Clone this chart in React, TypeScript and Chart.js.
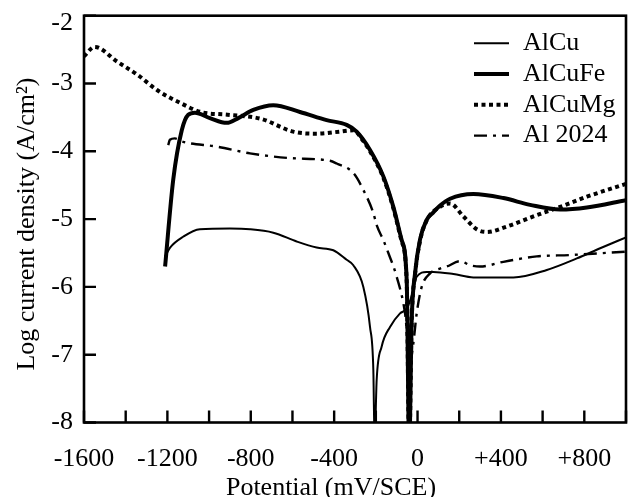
import React, { useEffect, useRef } from 'react';
import { Chart, registerables } from 'chart.js';

Chart.register(...registerables);

const FONT = "'Liberation Serif', 'Times New Roman', Times, serif";

const seriesNames = ['AlCu', 'AlCuFe', 'AlCuMg', 'Al 2024'];

// Potential (mV/SCE) and log current density for each alloy
const alCuX = [-1211, -1187, -1124, -1044, -900, -804, -692, -580, -484, -404, -340, -308, -260, -228, -212, -206, -196, -172, -132, -84, -52, -25, -4, 44, 76, 172, 268, 460, 620, 764, 876, 1000];
const alCuY = [-5.55, -5.42, -5.26, -5.15, -5.14, -5.15, -5.2, -5.33, -5.42, -5.46, -5.6, -5.68, -6.0, -6.59, -7.23, -8.3, -7.37, -6.88, -6.59, -6.39, -6.32, -6.1, -5.85, -5.78, -5.78, -5.81, -5.86, -5.86, -5.75, -5.58, -5.43, -5.27];

const alCuFeX = [-1211, -1172, -1131, -1100, -1068, -996, -915, -860, -788, -692, -564, -436, -340, -292, -228, -164, -116, -76, -52, -40, -28, -12, 12, 44, 76, 108, 156, 268, 412, 540, 684, 812, 1000];
const alCuFeY = [-5.7, -4.42, -3.69, -3.46, -3.43, -3.51, -3.58, -3.51, -3.39, -3.32, -3.42, -3.54, -3.61, -3.71, -3.98, -4.37, -4.82, -5.31, -5.9, -8.4, -6.49, -5.8, -5.3, -5.01, -4.9, -4.8, -4.7, -4.63, -4.69, -4.79, -4.86, -4.83, -4.72];

const alCuMgX = [-1600, -1549, -1440, -1344, -1248, -1136, -1040, -912, -752, -596, -484, -372, -308, -260, -228, -164, -116, -76, -52, -40, -28, -12, 12, 44, 108, 156, 220, 284, 332, 428, 556, 684, 812, 1000];
const alCuMgY = [-2.6, -2.46, -2.68, -2.87, -3.1, -3.29, -3.42, -3.46, -3.52, -3.71, -3.74, -3.71, -3.69, -3.85, -4.0, -4.39, -4.84, -5.33, -5.92, -8.4, -6.5, -5.82, -5.32, -5.02, -4.82, -4.77, -4.96, -5.15, -5.19, -5.11, -4.96, -4.82, -4.67, -4.48];

const al2024X = [-1196, -1188, -1164, -1124, -964, -804, -612, -420, -388, -308, -260, -212, -196, -164, -140, -100, -60, -35, -20, -4, 20, 60, 108, 140, 204, 252, 300, 412, 572, 732, 1000];
const al2024Y = [-3.91, -3.83, -3.81, -3.86, -3.93, -4.03, -4.1, -4.14, -4.18, -4.32, -4.57, -4.91, -5.09, -5.31, -5.5, -5.85, -6.39, -7.1, -6.83, -6.39, -6.0, -5.8, -5.73, -5.7, -5.62, -5.68, -5.7, -5.63, -5.55, -5.53, -5.48];

const xTickValues = [-1600, -1200, -800, -400, 0, 400, 800];
const xTickLabels = ['-1600', '-1200', '-800', '-400', '0', '+400', '+800'];
const yTickValues = [-8, -7, -6, -5, -4, -3, -2];
const yTickLabels = ['-8', '-7', '-6', '-5', '-4', '-3', '-2'];

const xTitle = 'Potential (mV/SCE)';
const yTitle = 'Log current density (A/cm\u00B2)';

const toPoints = (xs: number[], ys: number[]) => xs.map((x, i) => ({ x, y: ys[i] }));

const decorPlugin = {
  id: 'decor',
  afterDraw(chart: any) {
    const { ctx, chartArea: a } = chart;
    const xs = chart.scales.x;
    const ys = chart.scales.y;
    ctx.save();
    ctx.setLineDash([]);
    ctx.strokeStyle = '#000';
    ctx.lineWidth = 2.4;
    ctx.beginPath();
    xs.ticks.forEach((t: any) => {
      const p = xs.getPixelForValue(t.value);
      ctx.moveTo(p, a.bottom);
      ctx.lineTo(p, a.bottom - 12);
    });
    ys.ticks.forEach((t: any) => {
      const p = ys.getPixelForValue(t.value);
      ctx.moveTo(a.left, p);
      ctx.lineTo(a.left + 12, p);
    });
    ctx.stroke();
    ctx.lineWidth = 2.6;
    ctx.strokeRect(a.left, a.top, a.right - a.left, a.bottom - a.top);

    ctx.fillStyle = '#000';
    ctx.font = `26px ${FONT}`;
    ctx.textAlign = 'center';
    ctx.textBaseline = 'alphabetic';
    ctx.fillText(xTitle, (a.left + a.right) / 2 - 24, chart.height - 2);

    ctx.save();
    ctx.translate(27, (a.top + a.bottom) / 2 + 5);
    ctx.rotate(-Math.PI / 2);
    ctx.textBaseline = 'middle';
    ctx.fillText(yTitle, 0, 0);
    ctx.restore();

    // legend
    const lx0 = a.right - 152;
    const lx1 = a.right - 117;
    const tx = a.right - 103;
    chart.data.datasets.forEach((ds: any, i: number) => {
      const y = a.top + 27.5 + i * 30.8;
      ctx.setLineDash(ds.borderDash || []);
      ctx.lineWidth = ds.borderWidth;
      ctx.lineCap = 'butt';
      ctx.beginPath();
      ctx.moveTo(lx0, y);
      ctx.lineTo(lx1, y);
      ctx.stroke();
      ctx.setLineDash([]);
      ctx.textAlign = 'left';
      ctx.textBaseline = 'middle';
      ctx.fillText(ds.label, tx, y);
    });
    ctx.restore();
  },
};

const zeroPadding = (s: any) => {
  s.paddingTop = 0;
  s.paddingBottom = 0;
  s.paddingLeft = 0;
  s.paddingRight = 0;
};

export default function App() {
  const ref = useRef<HTMLCanvasElement | null>(null);
  useEffect(() => {
    if (!ref.current) return;
    const common = {
      borderColor: '#000',
      backgroundColor: '#000',
      pointRadius: 0,
      fill: false,
      cubicInterpolationMode: 'monotone' as const,
    };
    const chart = new Chart(ref.current, {
      type: 'line',
      data: {
        datasets: [
          { ...common, label: seriesNames[0], data: toPoints(alCuX, alCuY), borderWidth: 2 },
          { ...common, label: seriesNames[1], data: toPoints(alCuFeX, alCuFeY), borderWidth: 4 },
          { ...common, label: seriesNames[2], data: toPoints(alCuMgX, alCuMgY), borderWidth: 4, borderDash: [4, 3.5] },
          { ...common, label: seriesNames[3], data: toPoints(al2024X, al2024Y), borderWidth: 2.4, borderDash: [13, 6, 3, 6] },
        ],
      },
      options: {
        animation: false,
        responsive: false,
        layout: { padding: { top: 15.7, right: 10, left: 0, bottom: 0 } },
        plugins: { legend: { display: false }, tooltip: { enabled: false } },
        scales: {
          x: {
            type: 'linear',
            min: -1600,
            max: 1000,
            grid: { display: false, drawTicks: false },
            border: { display: false },
            ticks: {
              stepSize: 200,
              autoSkip: false,
              maxRotation: 0,
              padding: 21,
              color: '#000',
              font: { family: FONT, size: 26 },
              callback: (v: any) => {
                const i = xTickValues.indexOf(Number(v));
                return i >= 0 ? xTickLabels[i] : '';
              },
            },
            afterFit: (s: any) => {
              s.height = 74.5;
              zeroPadding(s);
            },
          },
          y: {
            type: 'linear',
            min: -8,
            max: -2,
            grid: { display: false, drawTicks: false },
            border: { display: false },
            ticks: {
              stepSize: 1,
              padding: 11,
              color: '#000',
              font: (c: any) =>
                c.tick && c.tick.value === -2
                  ? { family: FONT, size: 26, lineHeight: 0.55 }
                  : { family: FONT, size: 26 },
              callback: (v: any) => {
                const i = yTickValues.indexOf(Number(v));
                if (i < 0) return '';
                // top label sits a little below its tick, as in the original figure
                return Number(v) === -2 ? ['', yTickLabels[i]] : yTickLabels[i];
              },
            },
            afterFit: (s: any) => {
              s.width = 84;
              zeroPadding(s);
            },
          },
        },
      },
      plugins: [decorPlugin],
    });
    return () => chart.destroy();
  }, []);
  return (
    <div style={{ position: 'fixed', left: 0, top: 0, width: 636, height: 497, background: '#fff' }}>
      <canvas ref={ref} width={636} height={497} style={{ display: 'block' }} />
    </div>
  );
}
